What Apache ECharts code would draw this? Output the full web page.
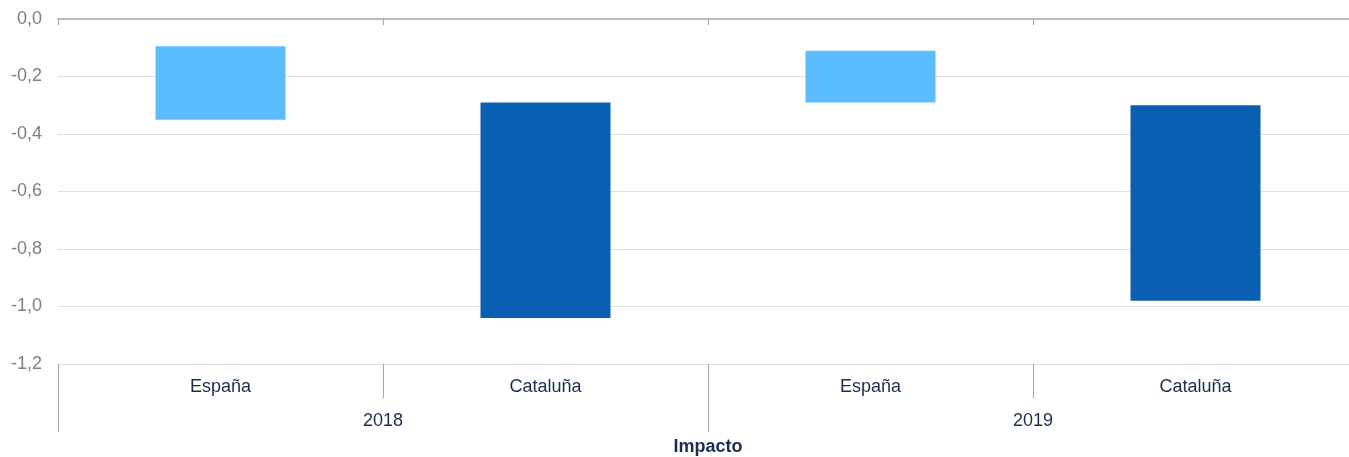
<!DOCTYPE html>
<html>
<head>
<meta charset="utf-8">
<script src="https://cdn.jsdelivr.net/npm/echarts@6/dist/echarts.min.js"></script>
<style>html,body{margin:0;padding:0;background:#fff;}#c{width:1349px;height:457px;}</style>
</head>
<body>
<div id="c"></div>
<script>
var categories = ['España', 'Cataluña', 'España', 'Cataluña'];
var years = ['2018', '2019'];
var barTop = [-0.095, -0.29, -0.11, -0.30];
var barBottom = [-0.35, -1.04, -0.29, -0.98];
var barColors = ['#5BBDFF', '#0B5FB3', '#5BBDFF', '#0B5FB3'];
var yTicks = { min: -1.2, max: 0, interval: 0.2 };

var chart = echarts.init(document.getElementById('c'));
var FONT = 'Liberation Sans, Arial, sans-serif';
var navy = '#1B2D4F';

var baseData = barTop.map(function (v) { return v; });
var spanData = barTop.map(function (t, i) {
  return { value: +(barBottom[i] - t).toFixed(4), itemStyle: { color: barColors[i] } };
});

chart.setOption({
  animation: false,
  grid: { left: 58, top: 19, height: 345, width: 1300, containLabel: false, outerBoundsMode: 'none' },
  xAxis: [
    {
      type: 'category', data: categories, position: 'top',
      axisLine: { show: true, lineStyle: { color: '#BBBBBB', width: 2 } },
      axisTick: { show: true, inside: true, length: 6, lineStyle: { color: '#A6A6A6', width: 1 } },
      axisLabel: { show: false }
    },
    {
      type: 'category', data: categories, position: 'bottom',
      axisLine: { show: false },
      axisTick: { show: true, length: 34, lineStyle: { color: '#A6A6A6', width: 1 } },
      axisLabel: { show: true, margin: 14, color: navy, fontSize: 18, fontFamily: FONT }
    },
    {
      type: 'category', data: years, position: 'bottom', offset: 34,
      axisLine: { show: false },
      axisTick: { show: true, length: 34, lineStyle: { color: '#A6A6A6', width: 1 } },
      axisLabel: { show: true, margin: 14, color: navy, fontSize: 18, fontFamily: FONT },
      name: 'Impacto', nameLocation: 'middle', nameGap: 40,
      nameTextStyle: { color: navy, fontSize: 18, fontWeight: 'bold', fontFamily: FONT }
    }
  ],
  yAxis: {
    type: 'value', min: yTicks.min, max: yTicks.max, interval: yTicks.interval,
    axisLine: { show: false }, axisTick: { show: false },
    splitLine: { show: true, lineStyle: { color: '#E0E0E0', width: 1 } },
    axisLabel: {
      margin: 16, color: '#7F7F7F', fontSize: 18, fontFamily: FONT,
      formatter: function (v) { return v.toFixed(1).replace('.', ','); }
    }
  },
  series: [
    {
      type: 'bar', xAxisIndex: 0, stack: 'r', data: baseData, barWidth: '40%',
      itemStyle: { color: 'rgba(0,0,0,0)' }, silent: true
    },
    {
      type: 'bar', xAxisIndex: 0, stack: 'r', data: spanData, barWidth: '40%'
    }
  ]
});
</script>
</body>
</html>
